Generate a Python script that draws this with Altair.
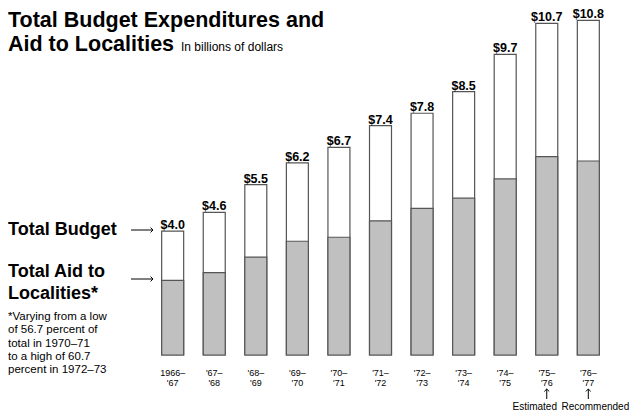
import altair as alt
import pandas as pd

# ---- data ----
cats = ["1966-67", "1967-68", "1968-69", "1969-70", "1970-71", "1971-72",
        "1972-73", "1973-74", "1974-75", "1975-76", "1976-77"]
tick_labels = ["1966–\n'67", "'67–\n'68", "'68–\n'69", "'69–\n'70", "'70–\n'71",
               "'71–\n'72", "'72–\n'73", "'73–\n'74", "'74–\n'75", "'75–\n'76", "'76–\n'77"]
total_budget = [4.0, 4.6, 5.5, 6.2, 6.7, 7.4, 7.8, 8.5, 9.7, 10.7, 10.8]
aid_localities = [2.41, 2.66, 3.16, 3.67, 3.80, 4.33, 4.73, 5.06, 5.68, 6.40, 6.26]
notes = ["", "", "", "", "", "", "", "", "", "Estimated", "Recommended"]

df = pd.DataFrame({
    "cat": cats,
    "label": tick_labels,
    "total": total_budget,
    "aid": aid_localities,
    "lbl": ["$%.1f" % t for t in total_budget],
    "note": notes,
})

FONT = "Liberation Sans"
xenc = alt.X("cat:N", sort=cats, axis=None,
             scale=alt.Scale(paddingInner=0.471, paddingOuter=0.281))
yscale = alt.Scale(domain=[0, 11.1], nice=False, zero=True)

base = alt.Chart(df)
tot = base.mark_bar(fill="white", stroke="#555555", strokeWidth=1.2).encode(
    x=xenc, y=alt.Y("total:Q", scale=yscale, axis=None, stack=None))
aidb = base.mark_bar(fill="#c0c0c0", stroke="#555555", strokeWidth=1.2).encode(
    x=xenc, y=alt.Y("aid:Q", scale=yscale, axis=None, stack=None))
vals = base.mark_text(font=FONT, fontSize=12.5, fontWeight="bold",
                      baseline="alphabetic", dy=-2, color="black").encode(
    x=xenc, y=alt.Y("total:Q", scale=yscale), text="lbl:N")
xl = base.mark_text(font=FONT, fontSize=9, baseline="alphabetic", lineBreak="\n",
                    lineHeight=9.5, color="black").encode(
    x=xenc, y=alt.value(365.2), text="label:N")

noted = base.transform_filter(alt.datum.note != "")
up_rules = noted.mark_rule(stroke="black", strokeWidth=1).encode(
    x=xenc, y=alt.value(378), y2=alt.value(388))
up_heads = noted.mark_point(shape="M-1,1L0,0L1,1", filled=False, stroke="black",
                            strokeWidth=1, size=24, opacity=1).encode(
    x=xenc, y=alt.value(378))
est = base.transform_filter(alt.datum.note == "Estimated").mark_text(
    font=FONT, fontSize=10, baseline="alphabetic", dx=-12, color="black").encode(
    x=xenc, y=alt.value(399), text="note:N")
rec = base.transform_filter(alt.datum.note == "Recommended").mark_text(
    font=FONT, fontSize=10, baseline="alphabetic", dx=7, color="black").encode(
    x=xenc, y=alt.value(399), text="note:N")

ann = alt.Chart(pd.DataFrame({"a": [0]}))


def txt(s, x, y, size, bold=False, lh=None):
    kw = dict(font=FONT, fontSize=size, align="left", baseline="alphabetic",
              color="black", fontWeight="bold" if bold else "normal")
    if lh is not None:
        kw.update(lineBreak="\n", lineHeight=lh)
    return ann.mark_text(**kw).encode(x=alt.value(x), y=alt.value(y), text=alt.value(s))


title1 = txt("Total Budget Expenditures and", -142, 15.5, 21.5, True)
title2 = txt("Aid to Localities", -142, 39.5, 21.5, True)
subt = txt("In billions of dollars", 31, 39.5, 12)
lab1 = txt("Total Budget", -142, 224, 18, True)
lab2 = txt("Total Aid to\nLocalities*", -142, 265.5, 18, True, lh=22)
foot = txt("*Varying from a low\nof 56.7 percent of\ntotal in 1970–71\nto a high of 60.7\npercent in 1972–73",
           -142, 309, 11.5, False, lh=13.3)

arr_layers = []
for yy in (219, 268):
    arr_layers.append(ann.mark_rule(stroke="black", strokeWidth=1).encode(
        x=alt.value(-19), x2=alt.value(3), y=alt.value(yy)))
    arr_layers.append(ann.mark_point(shape="M-1,-1L0,0L-1,1", filled=False, stroke="black",
                                     strokeWidth=1, size=24, opacity=1).encode(
        x=alt.value(3), y=alt.value(yy)))

chart = alt.layer(
    tot, aidb, vals, xl, up_rules, up_heads, est, rec,
    title1, title2, subt, lab1, lab2, foot, *arr_layers
).properties(
    width=461, height=344,
    padding={"left": 142, "top": 3, "right": 19, "bottom": 60},
    autosize=alt.AutoSizeParams(type="none"),
    background="white",
).configure_view(strokeWidth=0)

chart.save("out.html", embed_options={"renderer": "svg", "actions": False})
